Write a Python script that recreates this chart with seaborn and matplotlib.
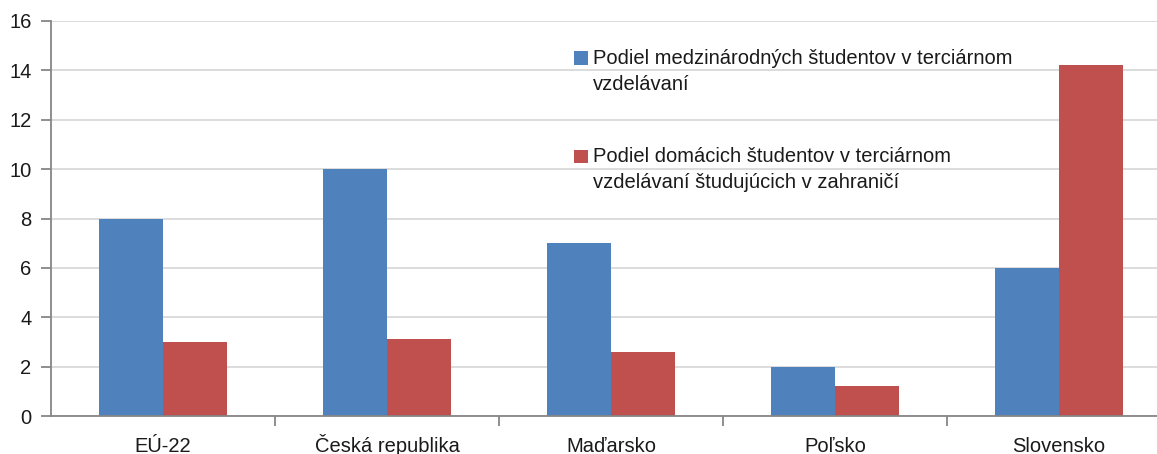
import matplotlib
matplotlib.use("Agg")
import matplotlib.pyplot as plt
import seaborn as sns
import pandas as pd
from matplotlib.patches import Patch, Rectangle
from matplotlib.legend_handler import HandlerPatch

countries = ["EÚ-22", "Česká republika", "Maďarsko", "Poľsko", "Slovensko"]
series_names = ["Podiel medzinárodných študentov v terciárnom\nvzdelávaní",
                "Podiel domácich študentov v terciárnom\nvzdelávaní študujúcich v zahraničí"]
intl_share = [8, 10, 7, 2, 6]
abroad_share = [3, 3.1, 2.6, 1.2, 14.2]
yticks = [0, 2, 4, 6, 8, 10, 12, 14, 16]
colors = ["#4F81BD", "#C0504D"]

df = pd.DataFrame({
    "country": countries * 2,
    "value": intl_share + abroad_share,
    "series": [series_names[0]] * len(countries) + [series_names[1]] * len(countries),
})

sns.set_style("white")
plt.rcParams["font.family"] = ["Liberation Sans", "DejaVu Sans"]
fs = 14.5
LINESP = 1.45

fig = plt.figure(figsize=(11.57, 4.54), dpi=100)
ax = fig.add_axes([51 / 1157, 38 / 454, 1120 / 1157, 395 / 454])

sns.barplot(data=df, x="country", y="value", hue="series", palette=colors,
            width=0.571, ax=ax, legend=False, linewidth=0, saturation=1)

ax.set_xlim(-0.5, len(countries) - 0.5)
ax.set_ylim(0, 16)
ax.set_yticks(yticks)
ax.set_yticklabels([str(t) for t in yticks])
ax.yaxis.grid(True, color="#D9D9D9", linewidth=1.3)
ax.set_axisbelow(True)
ax.set_xlabel("")
ax.set_ylabel("")

for s in ["top", "right"]:
    ax.spines[s].set_visible(False)
for s in ["left", "bottom"]:
    ax.spines[s].set_color("#868686")
    ax.spines[s].set_linewidth(1.3)

ax.tick_params(axis="y", length=7, width=1.3, color="#868686", pad=7, labelsize=fs,
               labelcolor="#1a1a1a", left=True)
ax.tick_params(axis="x", which="major", length=0, pad=26, labelsize=fs, labelcolor="#1a1a1a")
for lab in ax.get_xticklabels():
    lab.set_verticalalignment("baseline")
ax.set_xticks([i + 0.5 for i in range(len(countries) - 1)], minor=True)
ax.tick_params(axis="x", which="minor", length=7, width=1.3, color="#868686", bottom=True)


def top_aligned_patch(legend, orig_handle, xdescent, ydescent, width, height, fontsize):
    shift = 10.0  # points: align square with first label line
    return Rectangle((-xdescent, -ydescent + shift), width, height)


handles = [Patch(facecolor=c, edgecolor="none") for c in colors]
leg = fig.legend(handles, series_names, loc="upper left",
                 bbox_to_anchor=(556 / 1157, 1 - 31 / 454), frameon=False,
                 fontsize=fs, handlelength=0.68, handleheight=0.62, handletextpad=0.25,
                 labelspacing=2.65, labelcolor="#1a1a1a",
                 handler_map={Patch: HandlerPatch(patch_func=top_aligned_patch)})
for t in leg.get_texts():
    t.set_linespacing(LINESP)

fig.savefig("out.png", dpi=100)
